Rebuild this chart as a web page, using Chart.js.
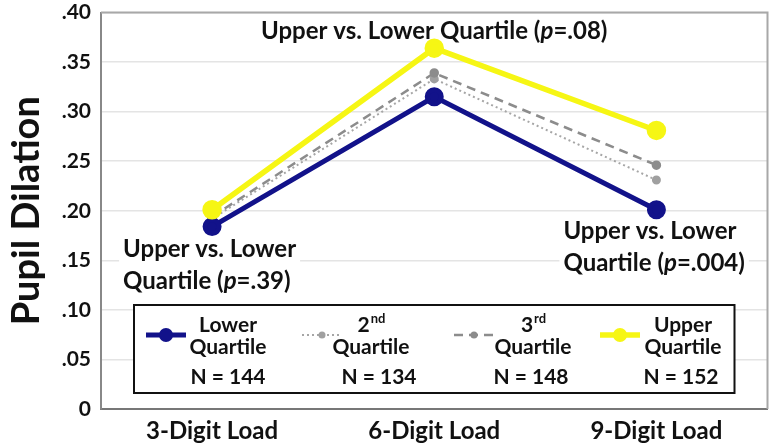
<!DOCTYPE html>
<html>
<head>
<meta charset="utf-8">
<script src="https://cdn.jsdelivr.net/npm/chart.js@4.4.1/dist/chart.umd.min.js"></script>
<style>
  html, body { margin: 0; padding: 0; background: #fff; }
  #wrap { width: 780px; height: 444px; }
</style>
</head>
<body>
<div id="wrap"><canvas id="myChart"></canvas></div>
<script>
const categories = ['3-Digit Load', '6-Digit Load', '9-Digit Load'];
const lowerQuartile = [0.184, 0.315, 0.201];
const secondQuartile = [0.192, 0.333, 0.231];
const thirdQuartile = [0.194, 0.339, 0.246];
const upperQuartile = [0.201, 0.364, 0.281];
const legendNames = [['Lower', ''], ['2', 'nd'], ['3', 'rd'], ['Upper', '']];
const sampleSizes = [144, 134, 148, 152];

const FONT = 'Lato, "Open Sans", sans-serif';

// annotation texts: [plain, italic-p, rest]
const notes = [
  { cat: 1, value: 0.381, dx: 0, align: 'center', lines: [['Upper vs. Lower Quartile (', 'p', '=.08)']] },
  { cat: 0, value: 0.161, dx: -89, align: 'left', lines: [['Upper vs. Lower', '', ''], ['Quartile (', 'p', '=.39)']] },
  { cat: 2, value: 0.179, dx: -93, align: 'left', lines: [['Upper vs. Lower', '', ''], ['Quartile (', 'p', '=.004)']] }
];

function richWidth(ctx, parts, size) {
  let w = 0;
  parts.forEach((p, i) => {
    ctx.font = (i === 1 ? 'italic ' : '') + 'bold ' + size + 'px ' + FONT;
    w += ctx.measureText(p).width;
  });
  return w;
}

function drawRich(ctx, parts, x, y, size) {
  parts.forEach((p, i) => {
    ctx.font = (i === 1 ? 'italic ' : '') + 'bold ' + size + 'px ' + FONT;
    ctx.fillText(p, x, y);
    x += ctx.measureText(p).width;
  });
}

const extras = {
  id: 'extras',
  beforeDatasetsDraw(chart) {
    const { ctx, chartArea, scales } = chart;
    const xs = scales.x, ys = scales.y;
    ctx.save();
    // top + right frame
    ctx.strokeStyle = '#a8a8a8';
    ctx.lineWidth = 2;
    ctx.beginPath();
    ctx.moveTo(chartArea.left, chartArea.top);
    ctx.lineTo(chartArea.right, chartArea.top);
    ctx.lineTo(chartArea.right, chartArea.bottom);
    ctx.stroke();

    // annotations
    const size = 24, lh = 32;
    ctx.textBaseline = 'middle';
    ctx.fillStyle = '#111';
    notes.forEach(n => {
      const cx = xs.getPixelForValue(n.cat) + n.dx;
      const cy = ys.getPixelForValue(n.value);
      n.lines.forEach((parts, i) => {
        const w = richWidth(ctx, parts, size);
        const x0 = n.align === 'center' ? cx - w / 2 : cx;
        const y = cy + i * lh;
        ctx.fillStyle = '#fff';
        ctx.fillRect(x0 - 4, y - lh / 2, w + 8, lh);
        ctx.fillStyle = '#111';
        drawRich(ctx, parts, x0, y, size);
      });
    });

    // legend box
    const bx = chartArea.left + 33, bw = chartArea.width - 66;
    const by = chartArea.bottom - 104, bh = 88;
    ctx.fillStyle = '#fff';
    ctx.fillRect(bx, by, bw, bh);
    ctx.strokeStyle = '#111';
    ctx.lineWidth = 2;
    ctx.strokeRect(bx, by, bw, bh);

    const sampleX = [65, 221, 373, 519];
    const textX = [127, 270, 432, 582];
    const nX = [127, 278, 430, 580];
    chart.data.datasets.forEach((ds, i) => {
      const sx = bx + sampleX[i] - 33;
      const sy = by + 30;
      ctx.strokeStyle = ds.borderColor;
      ctx.lineWidth = ds.borderWidth;
      ctx.setLineDash(ds.borderDash || []);
      ctx.beginPath();
      ctx.moveTo(sx - 20, sy);
      ctx.lineTo(sx + 20, sy);
      ctx.stroke();
      ctx.setLineDash([]);
      ctx.fillStyle = ds.pointBackgroundColor;
      ctx.beginPath();
      ctx.arc(sx, sy, ds.pointRadius, 0, Math.PI * 2);
      ctx.fill();

      const tx = bx + textX[i] - 33;
      ctx.fillStyle = '#111';
      ctx.textAlign = 'left';
      const [main, sup] = legendNames[i];
      ctx.font = 'bold 21px ' + FONT;
      const mw = ctx.measureText(main).width;
      ctx.font = 'bold 13px ' + FONT;
      const sw = ctx.measureText(sup).width;
      const start = tx - (mw + sw) / 2;
      ctx.font = 'bold 21px ' + FONT;
      ctx.fillText(main, start, by + 20);
      ctx.font = 'bold 13px ' + FONT;
      ctx.fillText(sup, start + mw + 1, by + 14);
      ctx.textAlign = 'center';
      ctx.font = 'bold 21px ' + FONT;
      ctx.fillText('Quartile', tx, by + 42);
      ctx.fillText('N = ' + sampleSizes[i], bx + nX[i] - 33, by + 72);
    });
    ctx.restore();
  }
};

const ctx = document.getElementById('myChart').getContext('2d');
const myChart = new Chart(ctx, {
  type: 'line',
  data: {
    labels: categories,
    datasets: [
      { label: 'Lower Quartile', data: lowerQuartile, borderColor: '#12128a', pointBackgroundColor: '#12128a',
        pointBorderColor: '#12128a', borderWidth: 5, pointRadius: 7, order: 1 },
      { label: '2nd Quartile', data: secondQuartile, borderColor: '#a6a6a6', pointBackgroundColor: '#a0a0a0',
        pointBorderColor: '#a0a0a0', borderWidth: 2, borderDash: [2, 3], pointRadius: 3.5, order: 3 },
      { label: '3rd Quartile', data: thirdQuartile, borderColor: '#8c8c8c', pointBackgroundColor: '#8c8c8c',
        pointBorderColor: '#8c8c8c', borderWidth: 2.5, borderDash: [9, 6], pointRadius: 3.5, order: 2 },
      { label: 'Upper Quartile', data: upperQuartile, borderColor: '#f6f614', pointBackgroundColor: '#f6f614',
        pointBorderColor: '#f6f614', borderWidth: 5.5, pointRadius: 7, order: 0 }
    ]
  },
  options: {
    responsive: true,
    maintainAspectRatio: false,
    animation: false,
    devicePixelRatio: 1,
    layout: { padding: { top: 4, right: 10, left: 0, bottom: 0 } },
    plugins: { legend: { display: false }, tooltip: { enabled: false } },
    scales: {
      x: {
        offset: true,
        grid: { display: false },
        border: { display: true, color: '#777', width: 2 },
        ticks: { color: '#111', font: { family: FONT, size: 24, weight: 'bold' }, padding: 0, maxRotation: 0 },
        afterFit: (s) => { s.height = 35; s.paddingLeft = 0; s.paddingRight = 0; }
      },
      y: {
        min: 0,
        max: 0.4,
        ticks: {
          stepSize: 0.05,
          color: '#111',
          padding: 10,
          font: { family: FONT, size: 21, weight: 'bold' },
          callback: (v) => v === 0 ? '0' : v.toFixed(2).replace(/^0/, '')
        },
        grid: { color: '#e4e4e4', lineWidth: 1.5, drawTicks: false },
        border: { display: true, color: '#888', width: 2 },
        title: { display: true, text: 'Pupil Dilation', color: '#111', font: { family: FONT, size: 38, weight: 'bold' }, padding: { top: 4, bottom: 0 } },
        afterFit: (s) => { s.width = 101; s.paddingTop = 0; s.paddingBottom = 0; }
      }
    }
  },
  plugins: [extras]
});
</script>
</body>
</html>
